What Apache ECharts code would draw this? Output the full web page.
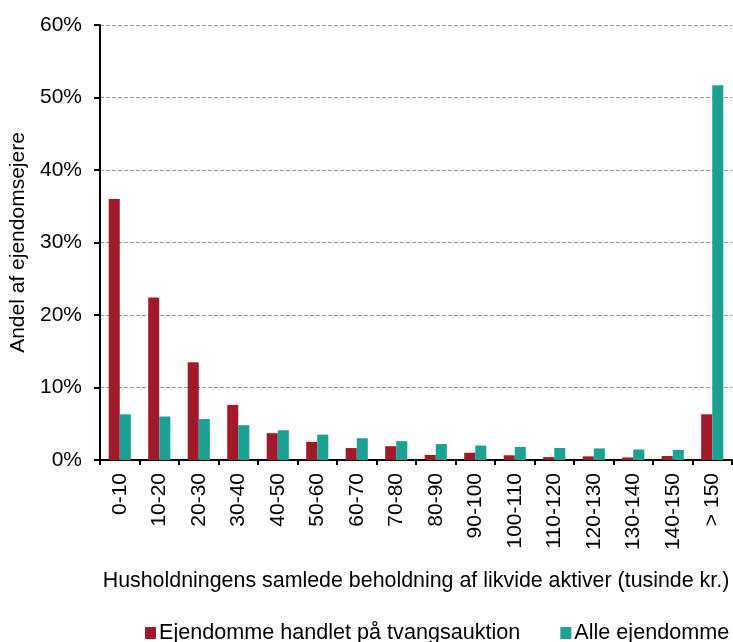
<!DOCTYPE html>
<html><head><meta charset="utf-8">
<script src="https://cdn.jsdelivr.net/npm/echarts@6/dist/echarts.min.js"></script>
<style>html,body{margin:0;padding:0;background:#fff}#c{width:733px;height:642px}</style>
</head><body><div id="c"></div>
<script>
var categories = ['0-10','10-20','20-30','30-40','40-50','50-60','60-70','70-80','80-90','90-100','100-110','110-120','120-130','130-140','140-150','> 150'];
var forcedSales = [36.0,22.4,13.5,7.6,3.7,2.5,1.65,1.9,0.7,1.0,0.65,0.4,0.5,0.35,0.55,6.3];
var allProperties = [6.3,6.0,5.65,4.8,4.1,3.5,3.0,2.6,2.2,2.0,1.8,1.65,1.6,1.45,1.4,51.7];
var seriesNames = ['Ejendomme handlet på tvangsauktion','Alle ejendomme'];
var yTicks = {min:0,max:60,interval:10};
var font = 'Liberation Sans, Arial, sans-serif';
var chart = echarts.init(document.getElementById('c'));
chart.setOption({
  animation:false,
  textStyle:{fontFamily:font},
  grid:{left:100,right:1,top:25,bottom:182,containLabel:false,outerBoundsMode:'none'},
  legend:{top:622,left:145,padding:0,itemGap:40,itemWidth:11,itemHeight:12,icon:'rect',
    textStyle:{fontSize:21.6,color:'#000',fontFamily:font,padding:[0,0,0,-2]},
    data:seriesNames},
  xAxis:{type:'category',data:categories,
    axisLine:{lineStyle:{color:'#000',width:2}},
    axisTick:{show:true,length:5,lineStyle:{color:'#000',width:2}},
    axisLabel:{rotate:90,fontSize:21,color:'#000',margin:13,fontFamily:font},
    name:'Husholdningens samlede beholdning af likvide aktiver (tusinde kr.)',
    nameLocation:'middle',nameGap:111,
    nameTextStyle:{fontSize:21.4,color:'#000',fontFamily:font}},
  yAxis:{type:'value',min:yTicks.min,max:yTicks.max,interval:yTicks.interval,
    axisLine:{show:true,lineStyle:{color:'#000',width:2}},
    axisTick:{show:true,length:6,lineStyle:{color:'#000',width:2}},
    axisLabel:{formatter:'{value}%',fontSize:21,color:'#000',margin:18,fontFamily:font},
    splitLine:{lineStyle:{color:'#999',type:'dashed',width:1}},
    name:'Andel af ejendomsejere',nameLocation:'middle',nameGap:67,
    nameTextStyle:{fontSize:21,color:'#000',fontFamily:font}},
  series:[
    {name:seriesNames[0],type:'bar',data:forcedSales,barGap:'0%',barCategoryGap:'44%',
      itemStyle:{color:'#A11A2B'}},
    {name:seriesNames[1],type:'bar',data:allProperties,barGap:'0%',barCategoryGap:'44%',
      itemStyle:{color:'#1AA191'}}
  ]
});
</script></body></html>
